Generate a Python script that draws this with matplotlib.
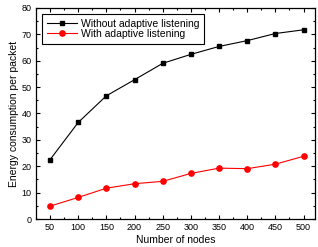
import matplotlib
matplotlib.use("Agg")
from matplotlib import pyplot as plt
from matplotlib.ticker import MultipleLocator

nodes = [50, 100, 150, 200, 250, 300, 350, 400, 450, 500]
without_listening = [22.5, 36.6, 46.7, 52.8, 59.0, 62.4, 65.4, 67.6, 70.3, 71.7]
with_listening = [4.9, 8.2, 11.7, 13.4, 14.3, 17.3, 19.3, 19.1, 20.8, 23.8]

plt.rcParams['font.family'] = ['Liberation Sans', 'DejaVu Sans']
plt.rcParams['font.size'] = 6.5

fig = plt.figure(figsize=(3.18, 2.47), dpi=100)
ax = fig.add_axes([0.113, 0.113, 0.877, 0.855])

ax.plot(nodes, without_listening, color='black', marker='s', markersize=3.5,
        linewidth=0.8, label='Without adaptive listening')
ax.plot(nodes, with_listening, color='red', marker='o', markersize=3.8,
        linewidth=0.8, label='With adaptive listening')

ax.set_xlim(25, 520)
ax.set_ylim(0, 80)
ax.set_xticks(nodes)
ax.xaxis.set_minor_locator(MultipleLocator(25))
ax.yaxis.set_major_locator(MultipleLocator(10))
ax.yaxis.set_minor_locator(MultipleLocator(5))
ax.tick_params(which='both', direction='in', top=True, right=True, width=0.8)
ax.tick_params(which='major', length=3, pad=3)
ax.tick_params(which='minor', length=1.5)
for s in ax.spines.values():
    s.set_linewidth(0.9)

ax.set_xlabel('Number of nodes', fontsize=7.5, labelpad=2)
ax.set_ylabel('Energy consumption per packet', fontsize=7.5, labelpad=2)

leg = ax.legend(loc='upper left', bbox_to_anchor=(0.022, 0.972), fontsize=7.5,
                fancybox=False, edgecolor='black', framealpha=1,
                handlelength=2.9, borderpad=0.45, labelspacing=0.05,
                handletextpad=0.35, borderaxespad=0)
leg.get_frame().set_linewidth(0.8)

fig.savefig('out.png', dpi=100)
